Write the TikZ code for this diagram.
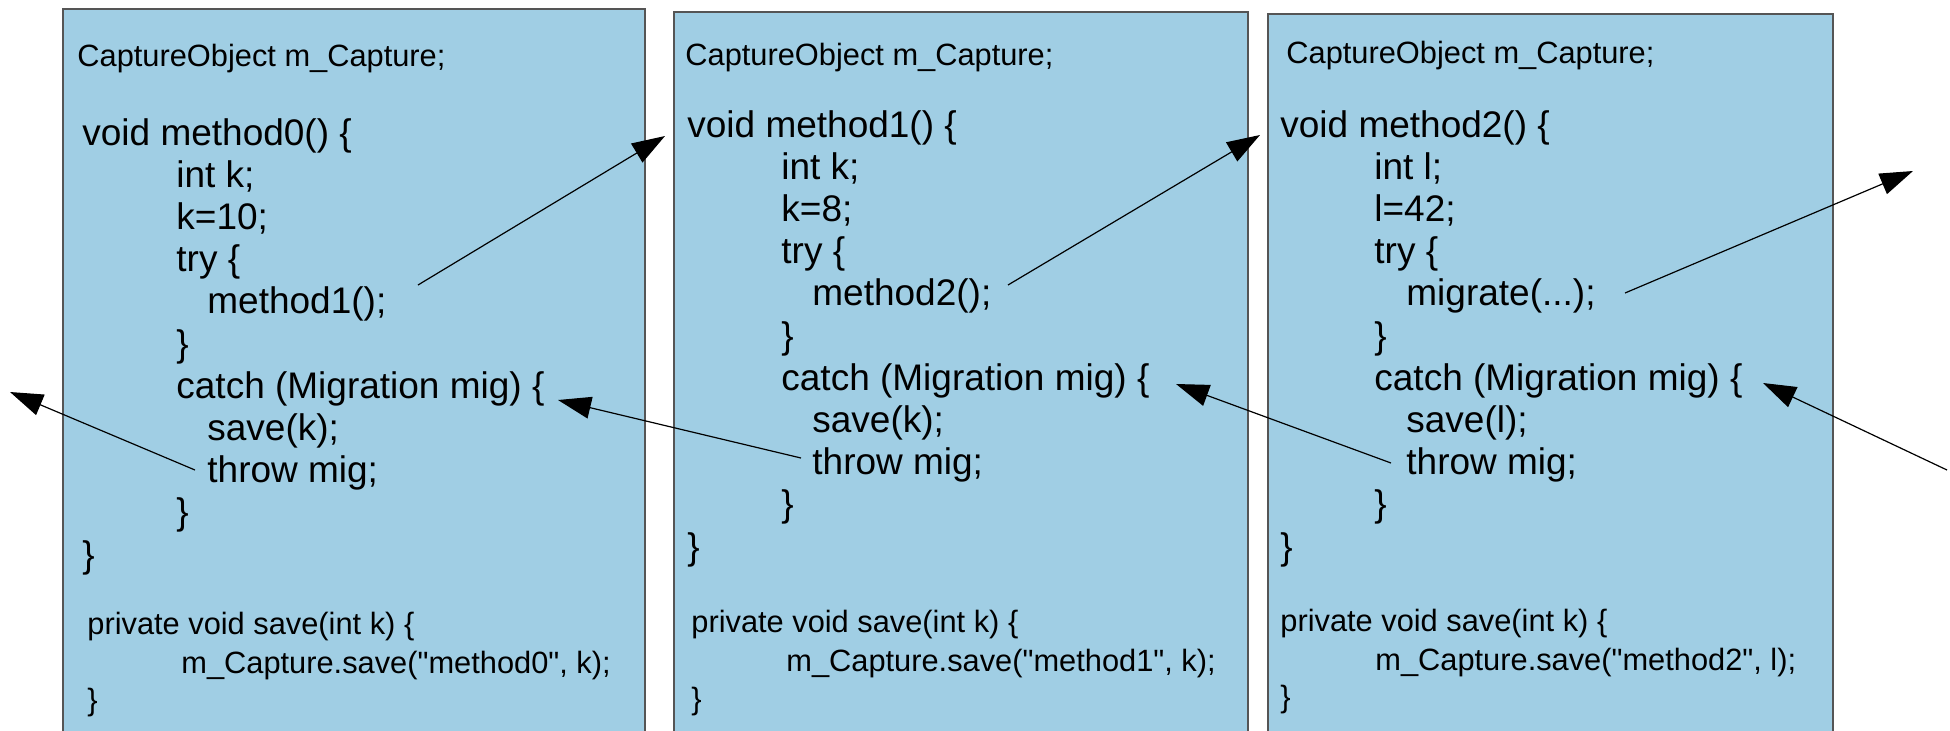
\documentclass[tikz,border=0pt]{standalone}
\usepackage{fontspec}
\setmainfont{Liberation Sans}[Ligatures=TeXOff]
\usetikzlibrary{arrows.meta}
\definecolor{panelblue}{RGB}{160,206,228}
\definecolor{panelborder}{RGB}{85,85,85}
\begin{document}
\begin{tikzpicture}[x=0.5pt,y=-0.5pt,
  panel/.style={draw=panelborder, line width=0.75pt, fill=panelblue, anchor=north west, inner sep=0pt},
  small/.style={anchor=base west, inner sep=0pt, font=\fontsize{15.4pt}{18pt}\selectfont},
  big/.style={anchor=base west, inner sep=0pt, font=\fontsize{18.5pt}{22pt}\selectfont},
  flow/.style={line width=0.6pt, -{Triangle[length=16.5pt,width=11pt]}}]
\useasboundingbox (0,0) rectangle (1950,730);
\clip (0,0) rectangle (1950,730);

% panels
\node[panel, minimum width=291pt, minimum height=366pt] (box1) at (62,8) {};
\node[panel, minimum width=287pt, minimum height=364.5pt] (box2) at (673,11) {};
\node[panel, minimum width=282.5pt, minimum height=363.5pt] (box3) at (1267,13) {};

% box 1
\node[small] (a0) at (77,66) {CaptureObject m\_Capture;};
\node[big] (a1) at (82,145) {void method0() \{};
\node[big] (a2) at (176,187.2) {int k;};
\node[big] (a3) at (176,229.4) {k=10;};
\node[big] (a4) at (176,271.6) {try \{};
\node[big] (a5) at (207,313.8) {method1();};
\node[big] (a6) at (176,356) {\}};
\node[big] (a7) at (176,398.2) {catch (Migration mig) \{};
\node[big] (a8) at (207,440.4) {save(k);};
\node[big] (a9) at (207,482.6) {throw mig;};
\node[big] (a10) at (176,524.8) {\}};
\node[big] (a11) at (82,567) {\}};
\node[small] (a12) at (87,634) {private void save(int k) \{};
\node[small] (a13) at (181,673) {m\_Capture.save("method0", k);};
\node[small] (a14) at (87,710) {\}};

% box 2
\node[small] (b0) at (685,65) {CaptureObject m\_Capture;};
\node[big] (b1) at (687,137) {void method1() \{};
\node[big] (b2) at (781,179.2) {int k;};
\node[big] (b3) at (781,221.4) {k=8;};
\node[big] (b4) at (781,263.6) {try \{};
\node[big] (b5) at (812,305.8) {method2();};
\node[big] (b6) at (781,348) {\}};
\node[big] (b7) at (781,390.2) {catch (Migration mig) \{};
\node[big] (b8) at (812,432.4) {save(k);};
\node[big] (b9) at (812,474.6) {throw mig;};
\node[big] (b10) at (781,516.8) {\}};
\node[big] (b11) at (687,559) {\}};
\node[small] (b12) at (691,632) {private void save(int k) \{};
\node[small] (b13) at (786,671) {m\_Capture.save("method1", k);};
\node[small] (b14) at (691,709) {\}};

% box 3
\node[small] (c0) at (1286,63) {CaptureObject m\_Capture;};
\node[big] (c1) at (1280,137) {void method2() \{};
\node[big] (c2) at (1374,179.2) {int l;};
\node[big] (c3) at (1374,221.4) {l=42;};
\node[big] (c4) at (1374,263.6) {try \{};
\node[big] (c5) at (1406,305.8) {migrate(...);};
\node[big] (c6) at (1374,348) {\}};
\node[big] (c7) at (1374,390.2) {catch (Migration mig) \{};
\node[big] (c8) at (1406,432.4) {save(l);};
\node[big] (c9) at (1406,474.6) {throw mig;};
\node[big] (c10) at (1374,516.8) {\}};
\node[big] (c11) at (1280,559) {\}};
\node[small] (c12) at (1280,631) {private void save(int k) \{};
\node[small] (c13) at (1375,670) {m\_Capture.save("method2", l);};
\node[small] (c14) at (1280,707) {\}};

% arrow end points
\coordinate (callA) at (418,285);
\coordinate (entryB) at (665,136);
\coordinate (callB) at (1008,285);
\coordinate (entryC) at (1260,135);
\coordinate (callC) at (1625,293);
\coordinate (outC) at (1913,171);
\coordinate (inC) at (1947,470);
\coordinate (catchC) at (1763,383);
\coordinate (throwC) at (1391,463);
\coordinate (catchB) at (1176,384);
\coordinate (throwB) at (801,458);
\coordinate (catchA) at (558,400);
\coordinate (throwA) at (195,470);
\coordinate (outA) at (10,392);

\draw[flow] (callA) -- (entryB);
\draw[flow] (callB) -- (entryC);
\draw[flow] (callC) -- (outC);
\draw[flow] (inC) -- (catchC);
\draw[flow] (throwC) -- (catchB);
\draw[flow] (throwB) -- (catchA);
\draw[flow] (throwA) -- (outA);
\end{tikzpicture}
\end{document}
